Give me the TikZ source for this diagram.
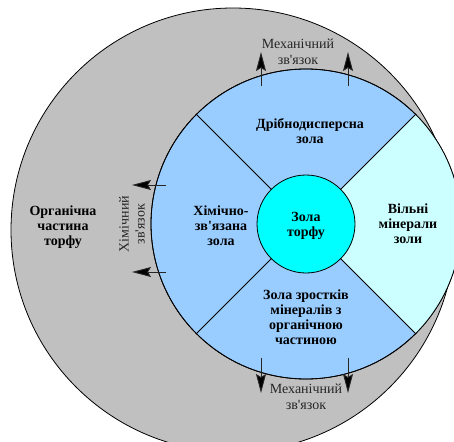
\documentclass[tikz,border=0pt]{standalone}
\usepackage{fontspec}
\setmainfont{Liberation Serif}[Ligatures=TeXOff]
\usetikzlibrary{arrows.meta}
\definecolor{peatgray}{HTML}{C0C0C0}
\definecolor{ashblue}{HTML}{99CCFF}
\definecolor{freecyan}{HTML}{CCFFFF}
\definecolor{corecyan}{HTML}{00FFFF}
\tikzset{
  ring/.style={circle, inner sep=0pt, draw=black, line width=0.8pt},
  boldlbl/.style={font=\fontsize{14}{15}\selectfont\bfseries, align=center, inner sep=0pt},
  normlbl/.style={font=\fontsize{14}{16}\selectfont, align=center, inner sep=0pt, text=black!85},
  bondarrow/.style={line width=0.9pt, draw=black!85, -{Stealth[length=19pt,width=10pt,inset=3pt,fill=black]}},
  divider/.style={line width=0.8pt, draw=black}
}
\begin{document}
\begin{tikzpicture}[x=1pt,y=-1pt]
\useasboundingbox (0,0) rectangle (454,441);
\begin{scope}
\clip (0,0) rectangle (454,441);
\node[ring, fill=peatgray, minimum size=444pt] (outer) at (233,230) {};
\node[ring, fill=ashblue, minimum size=310pt] (blue) at (306,224) {};
\fill[freecyan] (306,224) -- ++(45:155) arc (45:-45:155) -- cycle;
\draw[line width=0.8pt] (306,224) circle (155);
\draw[divider] (blue.north west) -- (blue.south east);
\draw[divider] (blue.north east) -- (blue.south west);
\end{scope}
\node[ring, fill=corecyan, minimum size=98pt] (core) at (306,224) {};
% labels
\node[boldlbl] (org) at (63,227) {Органічна\\частина\\торфу};
\node[boldlbl] (fine) at (310,131) {Дрібнодисперсна\\зола};
\node[boldlbl] (chem) at (221,226) {Хімічно-\\зв'язана\\зола};
\node[boldlbl] (peat) at (306,226) {Зола\\торфу};
\node[boldlbl] (free) at (408,224) {Вільні\\мінерали\\золи};
\node[boldlbl] (grow) at (306,317) {Зола зростків\\мінералів з\\органічною\\частиною};
\node[normlbl] (mechtop) at (298,52) {Механічний\\зв'язок};
\node[normlbl] (mechbot) at (306,397) {Механічний\\зв'язок};
\node[normlbl, rotate=90] (chembond) at (132,224) {Хімічний\\зв'язок};
% arrows
\coordinate (ut1) at (261,86); \coordinate (uh1) at (261,52);
\coordinate (ut2) at (348,86); \coordinate (uh2) at (348,52);
\coordinate (dt1) at (261,358); \coordinate (dh1) at (261,393);
\coordinate (dt2) at (348,358); \coordinate (dh2) at (348,393);
\coordinate (lt1) at (166,185); \coordinate (lh1) at (132,185);
\coordinate (lt2) at (166,272); \coordinate (lh2) at (132,272);
\draw[bondarrow] (ut1) -- (uh1);
\draw[bondarrow] (ut2) -- (uh2);
\draw[bondarrow] (dt1) -- (dh1);
\draw[bondarrow] (dt2) -- (dh2);
\draw[bondarrow] (lt1) -- (lh1);
\draw[bondarrow] (lt2) -- (lh2);
\end{tikzpicture}
\end{document}
